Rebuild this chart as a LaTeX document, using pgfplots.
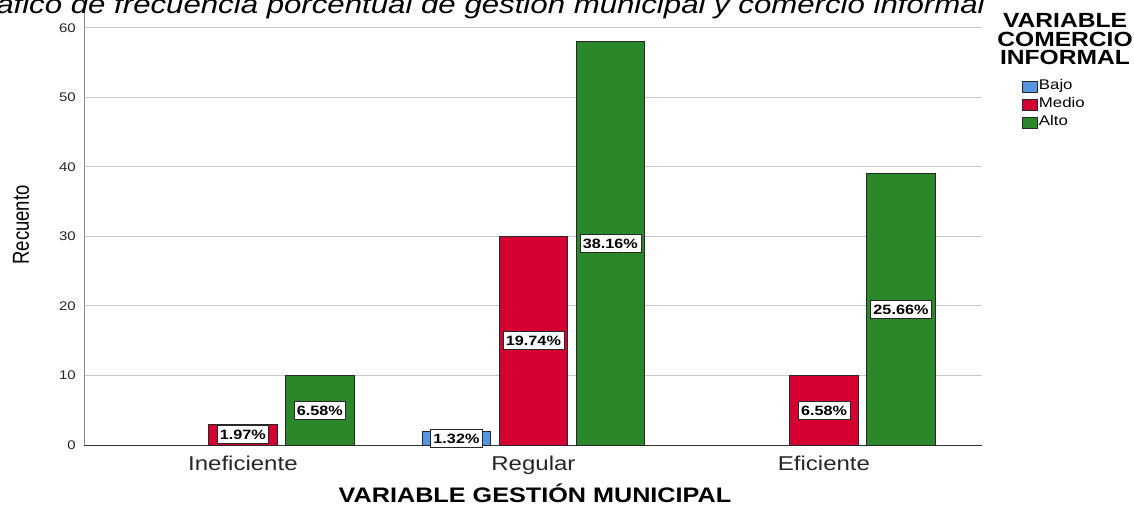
\documentclass[border=0pt]{standalone}
\usepackage{fontspec}
\setmainfont{Liberation Sans}[FakeStretch=1.2]
\newfontfamily\ylabfont{Liberation Sans}
\usepackage{graphicx}
\usepackage{pgfplots}
\pgfplotsset{compat=1.18}
\definecolor{cbajo}{RGB}{86,150,224}
\definecolor{cmedio}{RGB}{213,0,50}
\definecolor{calto}{RGB}{42,135,42}
\definecolor{cgrid}{RGB}{200,200,200}
\definecolor{cedge}{RGB}{40,40,40}
\begin{document}
\begin{tikzpicture}
\path[use as bounding box] (-84pt,-61pt) rectangle (1050pt,445pt);
\clip (-84pt,-61pt) rectangle (1050pt,445pt);
\begin{axis}[
  at={(0pt,0pt)}, anchor=south west,
  scale only axis, width=898pt, height=436pt,
  xmin=-0.547, xmax=2.544, ymin=0, ymax=62.73,
  axis x line=bottom, axis y line=left,
  x axis line style={-, draw=black!80, line width=1pt},
  y axis line style={-, draw=black!45, line width=1pt},
  xtick={0,1,2}, xticklabels={Ineficiente,Regular,Eficiente},
  ytick={0,10,...,60},
  major tick length=0pt,
  ymajorgrids, grid style={cgrid, line width=1pt},
  /pgf/number format/assume math mode=true,
  yticklabel style={font=\fontsize{12.5}{12.5}\selectfont, text=black!85, inner sep=0pt, xshift=-8pt},
  xticklabel style={font=\fontsize{20}{20}\selectfont, text=black!85, inner sep=0pt, text height=14.4pt, text depth=4pt, yshift=-10.5pt},
  xlabel={VARIABLE GESTIÓN MUNICIPAL},
  xlabel style={at={(axis description cs:0.5022,-0.1330)}, anchor=base, font=\bfseries\fontsize{21}{21}\selectfont},
  ylabel={\scalebox{1}[1.25]{\ylabfont\fontsize{18.5}{18.5}\selectfont Recuento}},
  ylabel style={at={(axis description cs:-0.0702,0.5046)}, anchor=center},
  legend image code/.code={\draw[#1, line width=0.8pt] (0pt,-5.5pt) rectangle (15pt,5.5pt);},
  legend style={at={(axis description cs:1.0445,0.840)}, anchor=north west, draw=none, fill=none, inner sep=0pt, row sep=3pt, font=\fontsize{14}{14}\selectfont, nodes={inner sep=1pt, text height=10pt, text depth=3pt, anchor=west, xshift=2pt}},
  legend cell align=left,
]
\addplot[ybar, bar width=0.236, bar shift=-0.265, fill=cbajo, draw=cedge, line width=1pt] coordinates {(1,2)};
\addplot[ybar, bar width=0.236, bar shift=0, fill=cmedio, draw=cedge, line width=1pt] coordinates {(0,3) (1,30) (2,10)};
\addplot[ybar, bar width=0.236, bar shift=0.265, fill=calto, draw=cedge, line width=1pt] coordinates {(0,10) (1,58) (2,39)};
\legend{Bajo,Medio,Alto}
\addplot[draw=none, forget plot, nodes near coords, point meta=explicit symbolic,
  nodes near coords style={anchor=center, fill=white, draw=cedge, line width=0.8pt, inner xsep=3pt, inner ysep=4pt, text height=10pt, text depth=0pt, font=\bfseries\fontsize{13.5}{13.5}\selectfont}]
  coordinates {(0,1.5)[1.97\%] (0.265,5)[6.58\%] (0.735,1)[1.32\%] (1,15)[19.74\%] (1.265,29)[38.16\%] (2,5)[6.58\%] (2.265,19.5)[25.66\%]};
\end{axis}
\node[anchor=base east, inner sep=0pt, font=\itshape\fontsize{26}{26}\selectfont] at (901pt,431pt) {Gráfico de frecuencia porcentual de gestión municipal y comercio informal};
\node[anchor=base, inner sep=0pt, font=\bfseries\fontsize{20.5}{20.5}\selectfont] at (981pt,417pt) {VARIABLE};
\node[anchor=base, inner sep=0pt, font=\bfseries\fontsize{20.5}{20.5}\selectfont] at (981pt,398.5pt) {COMERCIO};
\node[anchor=base, inner sep=0pt, font=\bfseries\fontsize{20.5}{20.5}\selectfont] at (981pt,380pt) {INFORMAL};
\end{tikzpicture}
\end{document}
